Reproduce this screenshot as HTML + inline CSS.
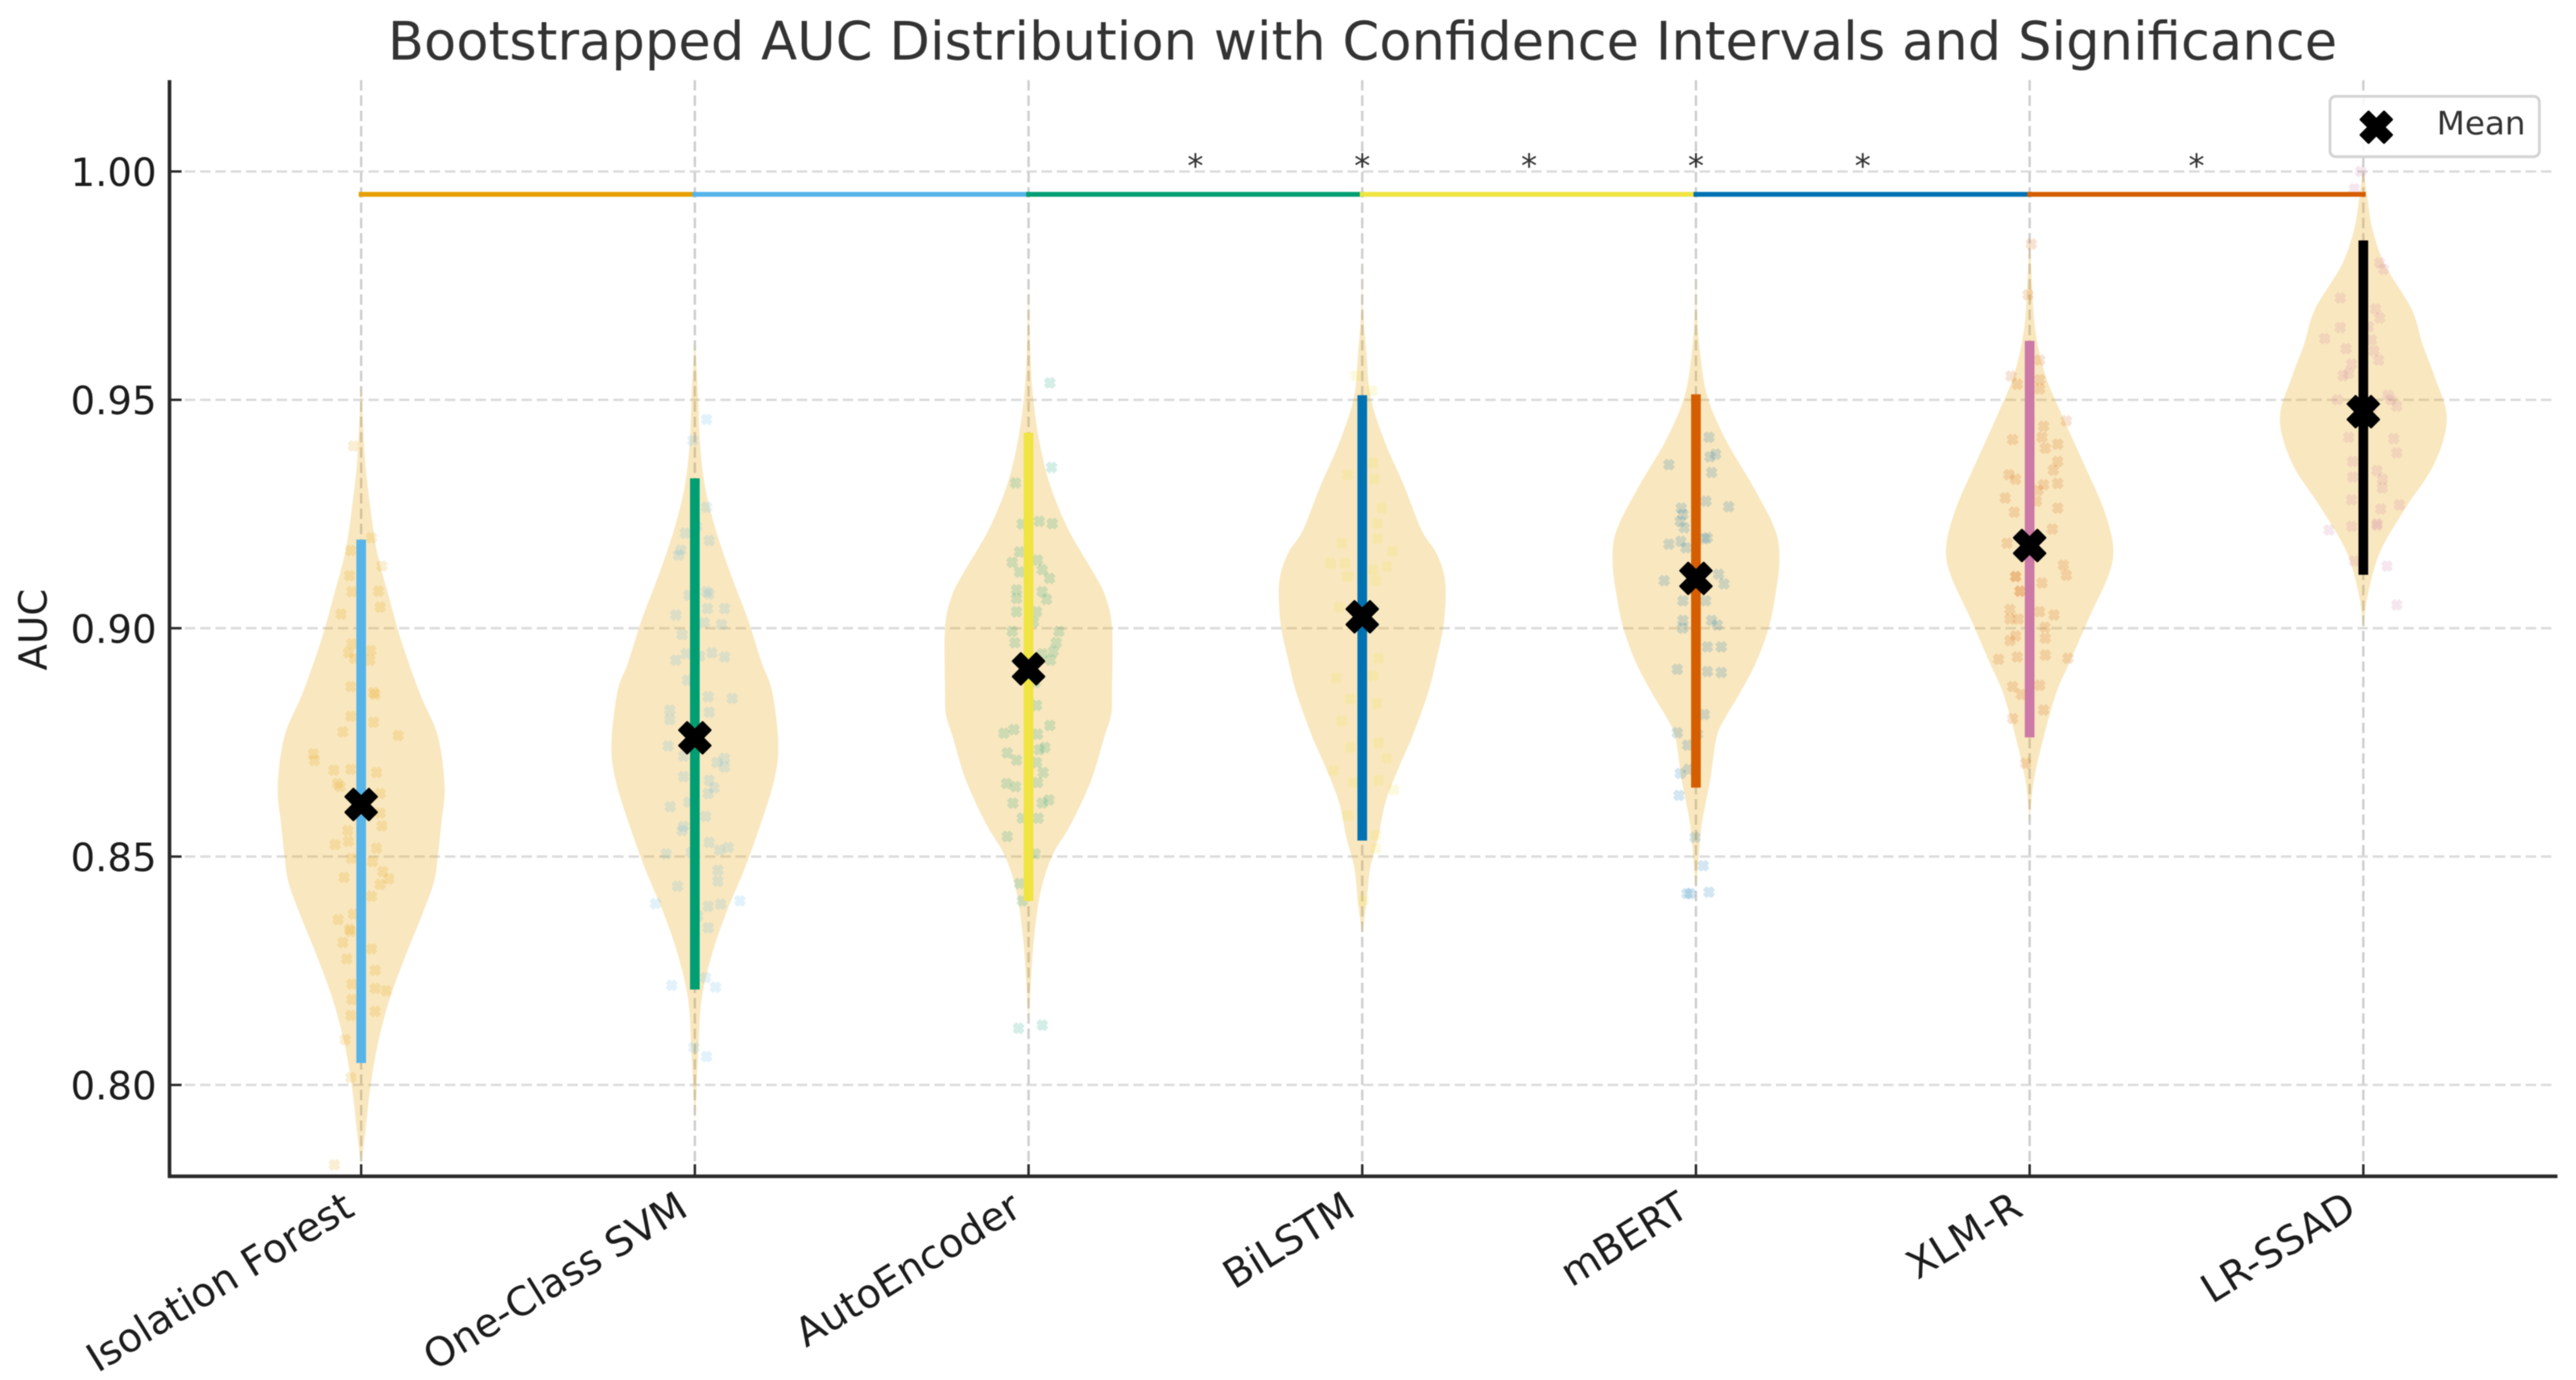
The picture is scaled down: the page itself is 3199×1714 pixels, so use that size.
<!DOCTYPE html>
<html lang="en">
<head>
<meta charset="utf-8">
<title>Bootstrapped AUC Distribution</title>
<style>
html,body{margin:0;padding:0;background:#fff;}
svg{display:block;font-family:"DejaVu Sans","Liberation Sans",sans-serif;filter:blur(0.6px);}
</style>
</head>
<body>
<svg id="chart" xmlns="http://www.w3.org/2000/svg" width="3199" height="1714" viewBox="0 0 3199 1714">
  <rect x="0" y="0" width="3199" height="1714" fill="#fff"/>
  <g id="grid-layer"></g>
  <g id="violin-layer"></g>
  <g id="point-layer"></g>
  <g id="ci-layer"></g>
  <g id="mean-layer"></g>
  <g id="sig-layer"></g>
  <g id="axis-layer"></g>
  <text x="1692" y="74" font-size="65.5" fill="#333" text-anchor="middle">Bootstrapped AUC Distribution with Confidence Intervals and Significance</text>
  <text transform="translate(58,782) rotate(-90)" font-size="48" fill="#1c1c1c" text-anchor="middle">AUC</text>
  <g>
    <rect x="2893.5" y="119.6" width="260" height="75" rx="7" fill="#fff" fill-opacity="0.85" stroke="#d4d4d4" stroke-width="3.5"/>
    <g id="legend-marker-slot"></g>
    <text x="3026" y="167" font-size="40.5" fill="#333">Mean</text>
  </g>
</svg>
<script>
const categories = ["Isolation Forest","One-Class SVM","AutoEncoder","BiLSTM","mBERT","XLM-R","LR-SSAD"];
const yTickValues = [0.80,0.85,0.90,0.95,1.00];
const yTickLabels = ["0.80","0.85","0.90","0.95","1.00"];
const meanAuc = [0.8614,0.8760,0.8911,0.9025,0.9109,0.9181,0.9474];
const ciLow = [0.8048,0.8209,0.8403,0.8535,0.8651,0.8761,0.9117];
const ciHigh = [0.9194,0.9328,0.9428,0.9510,0.9512,0.9629,0.9849];
const ciColors = ["#56B4E9","#009E73","#F0E442","#0072B2","#D55E00","#CC79A7","#000000"];
const pointColors = ["#E69F00","#56B4E9","#009E73","#F0E442","#0072B2","#D55E00","#CC79A7"];
const sigLevel = 0.995;
const sigColors = ["#E69F00","#56B4E9","#009E73","#F0E442","#0072B2","#D55E00"];
const starPositions = [2.5,3,3.5,4,4.5,5.5];
const starLevel = 0.9988;

const violinLevels = [
  [0.9535,0.9457,0.936,0.9264,0.9167,0.907,0.8973,0.8859,0.8763,0.8653,0.8572,0.8504,0.8446,0.8379,0.8282,0.8187,0.809,0.7995,0.7898,0.7827],
  [0.963,0.9505,0.9408,0.9312,0.9215,0.9118,0.9022,0.8925,0.8859,0.8745,0.8667,0.8572,0.8475,0.8379,0.8283,0.8187,0.809,0.7995,0.7918],
  [0.9757,0.9602,0.9505,0.9408,0.9312,0.9215,0.9118,0.907,0.9002,0.8859,0.8811,0.8763,0.8667,0.8572,0.8504,0.8427,0.833,0.8235,0.814],
  [0.9804,0.9698,0.9602,0.9505,0.9408,0.9312,0.9215,0.9167,0.9118,0.907,0.9,0.8925,0.8859,0.8763,0.8696,0.862,0.8542,0.8475,0.8399,0.833],
  [0.9804,0.9698,0.9602,0.9505,0.9408,0.9312,0.9215,0.9147,0.907,0.9,0.8925,0.8859,0.881,0.8763,0.8667,0.8572,0.8494,0.8427],
  [0.9853,0.9747,0.965,0.9553,0.9457,0.936,0.9264,0.9181,0.9118,0.9022,0.8925,0.8859,0.8763,0.8667,0.8581],
  [1.0003,0.994,0.9873,0.9795,0.9698,0.9621,0.9553,0.9459,0.936,0.9264,0.9167,0.907,0.8997]
];
const violinDensity = [
  [0.0,0.02,0.05,0.11,0.19,0.33,0.48,0.70,0.92,1.0,0.96,0.92,0.875,0.745,0.53,0.34,0.2,0.11,0.05,0.0],
  [0.0,0.04,0.06,0.12,0.25,0.43,0.63,0.80,0.93,1.0,0.95,0.79,0.6,0.38,0.2,0.08,0.045,0.02,0.0],
  [0.0,0.02,0.055,0.13,0.26,0.48,0.79,0.92,1.0,1.0,0.99,0.91,0.75,0.51,0.29,0.15,0.07,0.03,0.0],
  [0.0,0.01,0.05,0.10,0.27,0.5,0.71,0.88,0.98,1.0,0.97,0.88,0.79,0.6,0.44,0.28,0.19,0.095,0.05,0.0],
  [0.0,0.01,0.05,0.14,0.37,0.68,0.95,1.0,0.95,0.87,0.72,0.53,0.37,0.25,0.17,0.07,0.03,0.0],
  [0.0,0.03,0.07,0.19,0.41,0.65,0.88,1.0,0.95,0.71,0.48,0.32,0.17,0.05,0.0],
  [0.0,0.05,0.11,0.26,0.58,0.71,0.85,1.0,0.85,0.51,0.2,0.05,0.0]
];

const scatter0 = [[-.023,.9399],[.031,.9198],[-.031,.9170],[.062,.9136],[-.035,.9115],[-.028,.9080],[.052,.9081],[.057,.9046],[-.06,.9031],[-.028,.8966],[-.038,.8946],[.029,.8951],[-.02,.8934],[.026,.8930],[-.031,.8872],[.037,.8859],[.042,.8855],[-.031,.8807],[.037,.8794],[-.055,.8773],[.111,.8765],[-.143,.8725],[-.140,.8710],[-.082,.8689],[.046,.8684],[-.031,.8691],[-.071,.8660],[-.063,.8653],[.057,.8638],[.057,.8595],[.062,.8567],[-.040,.8557],[-.078,.8526],[-.038,.8533],[.046,.8518],[-.029,.8496],[.034,.8489],[.065,.8467],[.083,.8451],[-.051,.8454],[.057,.8439],[.031,.8413],[-.069,.8362],[-.023,.8374],[-.032,.8336],[-.035,.8341],[-.055,.8312],[.031,.8298],[-.043,.8276],[.042,.8251],[-.028,.8221],[.042,.8211],[.075,.8206],[-.028,.8187],[.042,.8161],[-.031,.8152],[-.048,.8099],[-.031,.8016],[-.080,.7825]];
const scatter1 = [[.035,.9457],[-.006,.9411],[.035,.9265],[.005,.9223],[-.029,.9208],[.043,.9192],[-.042,.9171],[-.049,.9160],[.035,.9080],[-.018,.9072],[.043,.9075],[.038,.9043],[.089,.9043],[-.057,.9029],[.028,.9012],[.080,.9008],[-.038,.8986],[.051,.8946],[.089,.8937],[-.026,.8944],[-.057,.8930],[.015,.8939],[-.022,.8886],[.040,.8850],[.112,.8846],[-.075,.8821],[.043,.8816],[-.075,.8800],[-.080,.8742],[-.034,.8720],[.089,.8715],[.066,.8706],[.089,.8696],[-.034,.8675],[.043,.8667],[.058,.8650],[.040,.8638],[-.018,.8619],[-.074,.8609],[.032,.8588],[-.034,.8566],[-.038,.8557],[.043,.8531],[.100,.8520],[.074,.8514],[-.086,.8506],[-.011,.8509],[.069,.8470],[.069,.8446],[-.052,.8435],[.077,.8396],[.040,.8391],[.135,.8403],[-.118,.8397],[.009,.8370],[.040,.8344],[.032,.8235],[-.069,.8218],[.062,.8214],[-.003,.8082],[.035,.8062]];
const scatter2 = [[.064,.9537],[.069,.9352],[-.039,.9318],[.032,.9234],[.071,.9229],[-.019,.9228],[-.027,.9167],[.027,.9149],[-.049,.9144],[-.027,.9123],[.041,.9128],[.063,.9109],[-.036,.9084],[-.036,.9065],[.041,.9080],[.054,.9063],[-.036,.9036],[.024,.9036],[.015,.9014],[-.049,.8993],[.091,.8993],[-.041,.8968],[.083,.8968],[.074,.8949],[.041,.8944],[.066,.8930],[.020,.8881],[.024,.8831],[.064,.8787],[-.074,.8770],[-.044,.8778],[.027,.8768],[.049,.8739],[.032,.8734],[-.064,.8727],[-.036,.8711],[.024,.8706],[.044,.8684],[-.066,.8660],[-.039,.8653],[.027,.8662],[.061,.8624],[.041,.8617],[-.047,.8617],[-.019,.8584],[.029,.8584],[-.064,.8544],[.020,.8506],[-.027,.8441],[-.019,.8403],[-.030,.8124],[.041,.8131]];
const scatter3 = [[-.019,.9553],[.029,.9520],[.032,.9362],[-.044,.9336],[.037,.9326],[.058,.9263],[.046,.9229],[.046,.9196],[-.061,.9186],[.091,.9169],[-.052,.9142],[-.095,.9142],[.074,.9135],[.032,.9128],[-.044,.9113],[.041,.9104],[-.069,.9046],[.049,.8934],[-.078,.8891],[.032,.8896],[-.036,.8845],[.044,.8835],[-.061,.8797],[.049,.8749],[-.036,.8739],[.074,.8715],[-.086,.8688],[-.027,.8662],[.049,.8667],[.095,.8646],[-.044,.8590],[.041,.8547],[.041,.8518],[.003,.8403]];
const scatter4 = [[-.081,.9358],[-.039,.9249],[-.047,.9234],[-.081,.9184],[-.030,.9176],[-.095,.9104],[-.039,.9060],[-.039,.9017],[-.056,.8910],[.039,.9418],[.059,.9381],[.042,.9375],[.047,.9341],[.030,.9278],[.098,.9266],[.025,.9196],[.034,.9198],[.068,.9118],[.084,.9097],[.029,.9060],[.047,.9017],[.064,.9007],[.034,.8959],[.076,.8959],[.034,.8905],[.076,.8903],[-.056,.8771],[-.025,.8744],[-.047,.8682],[-.051,.8634],[-.027,.8419],[-.022,.8691],[.025,.8811],[.005,.8768],[-.003,.8542],[.022,.8480],[.039,.8422],[-.017,.8419],[-.044,.9263],[-.035,.9220],[-.045,.9190],[-.040,.9000]];
const scatter5 = [[.005,.9841],[-.005,.9730],[-.056,.9552],[-.037,.9534],[.030,.9587],[.030,.9544],[.030,.9524],[.042,.9442],[.110,.9454],[-.051,.9413],[.037,.9418],[.084,.9403],[.047,.9394],[.084,.9365],[-.062,.9336],[.071,.9346],[-.042,.9326],[.042,.9314],[.084,.9317],[.025,.9302],[-.073,.9285],[.020,.9278],[-.046,.9254],[.084,.9263],[.068,.9217],[-.068,.9186],[.101,.9138],[.110,.9116],[-.042,.9113],[-.029,.9081],[.037,.9099],[-.059,.9041],[.073,.9029],[.030,.9036],[-.059,.9020],[-.034,.9020],[.046,.9002],[-.042,.8983],[.047,.8978],[-.059,.8973],[.047,.8941],[-.093,.8932],[-.037,.8937],[.115,.8934],[-.051,.8872],[.030,.8875],[-.025,.8855],[.042,.8821],[-.051,.8802],[-.012,.8704],[-.042,.9113],[-.029,.9081]];
const scatter6 = [[-.008,1.0000],[-.027,.9962],[.049,.9800],[.061,.9786],[-.069,.9723],[.037,.9699],[.049,.9679],[-.069,.9658],[.015,.9660],[-.116,.9634],[.024,.9631],[-.052,.9612],[.032,.9607],[.046,.9587],[-.035,.9578],[-.044,.9558],[-.061,.9553],[.074,.9510],[.083,.9500],[-.078,.9500],[.100,.9486],[.024,.9481],[-.044,.9418],[.091,.9415],[.100,.9384],[-.032,.9365],[.041,.9345],[-.032,.9331],[.057,.9326],[.057,.9307],[-.035,.9281],[.108,.9270],[.052,.9261],[.041,.9229],[-.035,.9223],[-.103,.9215],[.041,.9225],[-.027,.9147],[.071,.9136],[.100,.9051]];
const scatterSeries = [scatter0,scatter1,scatter2,scatter3,scatter4,scatter5,scatter6];

const SVGNS = "http://www.w3.org/2000/svg";
const plot = {left:210.5,right:3176,top:99.5,bottom:1461,x0:448.5,xStep:414.4,yMin:0.78,yMax:1.02,halfWidth:0.25};
function xScale(c){return plot.x0+plot.xStep*c;}
function yScale(v){return plot.bottom-(v-plot.yMin)/(plot.yMax-plot.yMin)*(plot.bottom-plot.top);}
function make(tag,parentId){
  const el=document.createElementNS(SVGNS,tag);
  document.getElementById(parentId).appendChild(el);
  return el;
}
function setAll(el,attrs){for(const k in attrs){el.setAttribute(k,attrs[k]);}return el;}
function xMarkerPoints(cx,cy,s){
  const shape=[[-1,-2],[0,-1],[1,-2],[2,-1],[1,0],[2,1],[1,2],[0,1],[-1,2],[-2,1],[-1,0],[-2,-1]];
  return shape.map(p=>(cx+p[0]*s).toFixed(2)+","+(cy+p[1]*s).toFixed(2)).join(" ");
}
function smoothSide(pts){
  let d="";
  for(let i=0;i<pts.length-1;i++){
    const p0=pts[Math.max(i-1,0)],p1=pts[i],p2=pts[i+1],p3=pts[Math.min(i+2,pts.length-1)];
    const c1x=p1[0]+(p2[0]-p0[0])/6,c1y=p1[1]+(p2[1]-p0[1])/6;
    const c2x=p2[0]-(p3[0]-p1[0])/6,c2y=p2[1]-(p3[1]-p1[1])/6;
    d+="C"+c1x.toFixed(1)+" "+c1y.toFixed(1)+" "+c2x.toFixed(1)+" "+c2y.toFixed(1)+" "+p2[0].toFixed(1)+" "+p2[1].toFixed(1);
  }
  return d;
}

/* grid */
yTickValues.forEach(function(v,i){
  const el=make("line","grid-layer");
  
  
  setAll(el,{x1:plot.left,x2:plot.right-4,y1:yScale(v),y2:yScale(v),stroke:"#dcdcdc","stroke-width":3,"stroke-dasharray":"13 6"});
});
categories.forEach(function(c,i){
  const el=make("line","grid-layer");
  
  
  setAll(el,{x1:xScale(i),x2:xScale(i),y1:plot.top,y2:plot.bottom,stroke:"#cfcfcf","stroke-width":3,"stroke-dasharray":"13 6"});
});

/* violins */
categories.forEach(function(c,i){
  const right=violinLevels[i].map((v,k)=>[xScale(i+violinDensity[i][k]*plot.halfWidth),yScale(v)]);
  const left=violinLevels[i].map((v,k)=>[xScale(i-violinDensity[i][k]*plot.halfWidth),yScale(v)]).reverse();
  const d="M"+right[0][0].toFixed(1)+" "+right[0][1].toFixed(1)+smoothSide(right)+smoothSide(left)+"Z";
  const el=make("path","violin-layer");
  
  
  setAll(el,{d:d,fill:"#E69F00","fill-opacity":0.25});
});

/* jittered bootstrap points */
scatterSeries.forEach(function(series,i){
  series.forEach(function(pt){
    const el=make("polygon","point-layer");
    
    
    setAll(el,{points:xMarkerPoints(xScale(i+pt[0]),yScale(pt[1]),2.8),fill:pointColors[i],stroke:pointColors[i],"stroke-width":3,"stroke-linejoin":"round",opacity:0.17});
  });
});

/* confidence intervals */
categories.forEach(function(c,i){
  const el=make("line","ci-layer");
  
  
  setAll(el,{x1:xScale(i),x2:xScale(i),y1:yScale(ciHigh[i]),y2:yScale(ciLow[i]),stroke:ciColors[i],"stroke-width":12});
});

/* means */
categories.forEach(function(c,i){
  const el=make("polygon","mean-layer");
  
  
  setAll(el,{points:xMarkerPoints(xScale(i),yScale(meanAuc[i]),9.6),fill:"#000",stroke:"#000","stroke-width":3,"stroke-linejoin":"round"});
});

/* significance lines and stars */
sigColors.forEach(function(col,i){
  const el=make("line","sig-layer");
  
  
  setAll(el,{x1:xScale(i),x2:xScale(i+1),y1:yScale(sigLevel),y2:yScale(sigLevel),stroke:col,"stroke-width":6,"stroke-linecap":"square"});
});
starPositions.forEach(function(p){
  const el=make("text","sig-layer");
  
  
  setAll(el,{x:xScale(p),y:yScale(starLevel),"font-size":40,fill:"#333","text-anchor":"middle"});
  el.textContent="*";
});

/* axes */
const leftSpine=make("line","axis-layer");


setAll(leftSpine,{x1:plot.left,x2:plot.left,y1:plot.top,y2:plot.bottom+2,stroke:"#2a2a2a","stroke-width":4.5});
const bottomSpine=make("line","axis-layer");


setAll(bottomSpine,{x1:plot.left-2,x2:plot.right,y1:plot.bottom,y2:plot.bottom,stroke:"#2a2a2a","stroke-width":4.5});
yTickValues.forEach(function(v,i){
  const tick=make("line","axis-layer");
  
  
  setAll(tick,{x1:plot.left,x2:plot.left+15,y1:yScale(v),y2:yScale(v),stroke:"#2a2a2a","stroke-width":3});
  const label=make("text","axis-layer");
  
  
  setAll(label,{x:plot.left-16,y:yScale(v)+18,"font-size":48,fill:"#1c1c1c","text-anchor":"end"});
  label.textContent=yTickLabels[i];
});
categories.forEach(function(c,i){
  const tick=make("line","axis-layer");
  
  
  setAll(tick,{x1:xScale(i),x2:xScale(i),y1:plot.bottom,y2:plot.bottom-15,stroke:"#2a2a2a","stroke-width":3});
  const label=make("text","axis-layer");
  
  
  const lx=xScale(i)-6,ly=plot.bottom+47;
  setAll(label,{transform:"translate("+lx+","+ly+") rotate(-31.6)","font-size":49.5,fill:"#1c1c1c","text-anchor":"end"});
  label.textContent=c;
});

/* legend marker */
const legendMarker=make("polygon","legend-marker-slot");


setAll(legendMarker,{points:xMarkerPoints(2951,158,9.6),fill:"#000",stroke:"#000","stroke-width":3,"stroke-linejoin":"round"});
</script>
</body>
</html>
